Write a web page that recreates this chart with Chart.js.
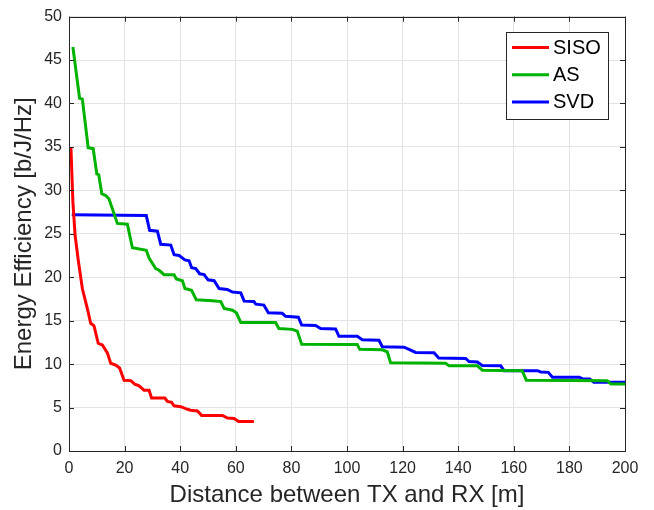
<!DOCTYPE html>
<html>
<head>
<meta charset="utf-8">
<script src="https://cdn.jsdelivr.net/npm/chart.js@4"></script>
<style>
  html, body { margin: 0; padding: 0; background: #fff; }
  #wrap { width: 654px; height: 510px; }
</style>
</head>
<body>
<div id="wrap"><canvas id="c" width="654" height="510"></canvas></div>
<script>
// values (x = distance [m], y = efficiency)
const sisoX = [0.7, 1.4, 2.2, 3.4, 4.8, 6.6, 7.8, 9, 10.5, 12, 13.8, 15, 16.8, 18.2, 19.8, 22.2, 23.7, 25.2, 27, 28.8, 29.7, 34.5, 35.4, 36.9, 37.8, 40.2, 42.6, 43.8, 46.2, 47.7, 55.2, 57, 59.4, 61, 66.5];
const sisoY = [34.9, 28.7, 24.8, 21.8, 18.7, 16.4, 14.7, 14.4, 12.4, 12.2, 11.3, 10.1, 9.9, 9.55, 8.15, 8.1, 7.7, 7.5, 7.0, 7.0, 6.1, 6.1, 5.7, 5.6, 5.2, 5.1, 4.8, 4.7, 4.6, 4.1, 4.1, 3.8, 3.75, 3.4, 3.4];

const asX = [1.4, 3.8, 4.8, 6.9, 8.7, 10, 10.7, 11.8, 13.2, 14.4, 17.4, 21, 22.8, 27.8, 28.8, 31.2, 32.4, 34.2, 37.8, 38.6, 40.8, 41.7, 44.1, 45.8, 51.6, 54.6, 55.8, 58.8, 60.2, 61.8, 74.3, 75.5, 80.3, 82.1, 83.7, 103.7, 104.6, 112.7, 114.5, 115.7, 135.5, 136.7, 146.9, 148.7, 163, 164.5, 193.6, 195, 200];
const asY = [46.5, 40.6, 40.5, 34.9, 34.8, 31.9, 31.8, 29.6, 29.4, 29.0, 26.2, 26.1, 23.4, 23.1, 22.2, 21.0, 20.8, 20.3, 20.3, 19.8, 19.6, 18.7, 18.5, 17.4, 17.3, 17.2, 16.4, 16.2, 15.9, 14.8, 14.8, 14.1, 14.0, 13.8, 12.3, 12.25, 11.7, 11.65, 11.4, 10.15, 10.1, 9.8, 9.8, 9.3, 9.25, 8.15, 8.1, 7.7, 7.7];

const svdX = [1, 27.8, 29, 31.8, 33, 36.6, 37.8, 39.6, 41.7, 43.2, 44.1, 45.6, 47, 48.6, 50, 52.2, 54, 56.9, 58.8, 61.8, 63, 66.5, 67.2, 70.1, 71.7, 76.7, 77.9, 82.5, 83.7, 88.7, 90.5, 95.9, 97.1, 103.7, 105.5, 111.5, 112.7, 120.5, 122.3, 124.7, 131.3, 133, 142.7, 143.9, 146.9, 148.7, 155.3, 156.5, 168.5, 169.7, 172.4, 173.9, 183.5, 184.7, 187.3, 188.8, 200];
const svdY = [27.2, 27.1, 25.4, 25.3, 23.8, 23.7, 22.6, 22.5, 22.0, 21.9, 21.1, 21.0, 20.4, 20.3, 19.7, 19.6, 18.7, 18.6, 18.3, 18.2, 17.25, 17.2, 16.9, 16.8, 15.9, 15.85, 15.5, 15.4, 14.5, 14.45, 14.1, 14.05, 13.2, 13.2, 12.8, 12.75, 12.0, 11.95, 11.7, 11.35, 11.3, 10.7, 10.65, 10.3, 10.25, 9.83, 9.8, 9.25, 9.25, 9.1, 9.05, 8.5, 8.5, 8.33, 8.3, 7.9, 7.9];

const xTicks = [0, 20, 40, 60, 80, 100, 120, 140, 160, 180, 200];
const yTicks = [0, 5, 10, 15, 20, 25, 30, 35, 40, 45, 50];

const pts = (xs, ys) => xs.map((x, i) => ({ x, y: ys[i] }));
const ink = "#262626";
const fontFam = "'Liberation Sans', Arial, sans-serif";

// box, inward ticks and in-plot legend, MATLAB style
const axesBox = {
  id: "axesBox",
  afterDatasetsDraw(chart) {
    const { ctx, chartArea: a, scales } = chart;
    ctx.save();
    ctx.strokeStyle = ink;
    ctx.lineWidth = 1;
    ctx.beginPath();
    xTicks.forEach((v) => {
      const px = Math.round(scales.x.getPixelForValue(v)) + 0.5;
      ctx.moveTo(px, a.bottom); ctx.lineTo(px, a.bottom - 5);
      ctx.moveTo(px, a.top); ctx.lineTo(px, a.top + 5);
    });
    yTicks.forEach((v) => {
      const py = Math.round(scales.y.getPixelForValue(v)) + 0.5;
      ctx.moveTo(a.left, py); ctx.lineTo(a.left + 5, py);
      ctx.moveTo(a.right, py); ctx.lineTo(a.right - 5, py);
    });
    ctx.stroke();
    ctx.strokeRect(Math.round(a.left) + 0.5, Math.round(a.top) + 0.5, Math.round(a.right - a.left), Math.round(a.bottom - a.top));

    // legend
    const bx = 506.5, by = 32.5, bw = 102, bh = 87;
    ctx.fillStyle = "#fff";
    ctx.fillRect(bx, by, bw, bh);
    ctx.strokeRect(bx, by, bw, bh);
    ctx.font = "20px " + fontFam;
    ctx.textBaseline = "middle";
    chart.data.datasets.forEach((ds, i) => {
      const y = 47.5 + i * 27.2;
      ctx.strokeStyle = ds.borderColor;
      ctx.lineWidth = 3;
      ctx.beginPath();
      ctx.moveTo(512, y); ctx.lineTo(549, y);
      ctx.stroke();
      ctx.fillStyle = "#000";
      ctx.fillText(ds.label, 553, y + 1);
    });
    ctx.restore();
  },
};

new Chart(document.getElementById("c").getContext("2d"), {
  type: "line",
  data: {
    datasets: [
      { label: "SISO", data: pts(sisoX, sisoY), borderColor: "#ff0000" },
      { label: "AS", data: pts(asX, asY), borderColor: "#00b300" },
      { label: "SVD", data: pts(svdX, svdY), borderColor: "#0000ff" },
    ],
  },
  options: {
    responsive: false,
    animation: false,
    layout: { padding: { left: 9, right: 29, top: 15, bottom: 0 } },
    elements: { point: { radius: 0 }, line: { borderWidth: 3, tension: 0 } },
    plugins: { legend: { display: false }, tooltip: { enabled: false } },
    scales: {
      x: {
        type: "linear",
        min: 0, max: 200,
        afterBuildTicks: (s) => { s.ticks = xTicks.map((v) => ({ value: v })); },
        afterFit: (s) => { s.height = 59; },
        grid: { color: "#e3e3e3", drawTicks: false },
        border: { display: false },
        ticks: { color: ink, font: { family: fontFam, size: 16 }, padding: 8, maxRotation: 0 },
        title: { display: true, text: "Distance between TX and RX [m]", color: ink, font: { family: fontFam, size: 24 }, padding: { top: 0, bottom: 0 } },
      },
      y: {
        min: 0, max: 50,
        afterBuildTicks: (s) => { s.ticks = yTicks.map((v) => ({ value: v })); },
        afterFit: (s) => { s.width = 60; },
        grid: { color: "#e3e3e3", drawTicks: false },
        border: { display: false },
        ticks: { color: ink, font: { family: fontFam, size: 16 }, padding: 7 },
        title: { display: true, text: "Energy Efficiency [b/J/Hz]", color: ink, font: { family: fontFam, size: 24 }, padding: { top: 1, bottom: 0 } },
      },
    },
  },
  plugins: [axesBox],
});
</script>
</body>
</html>
